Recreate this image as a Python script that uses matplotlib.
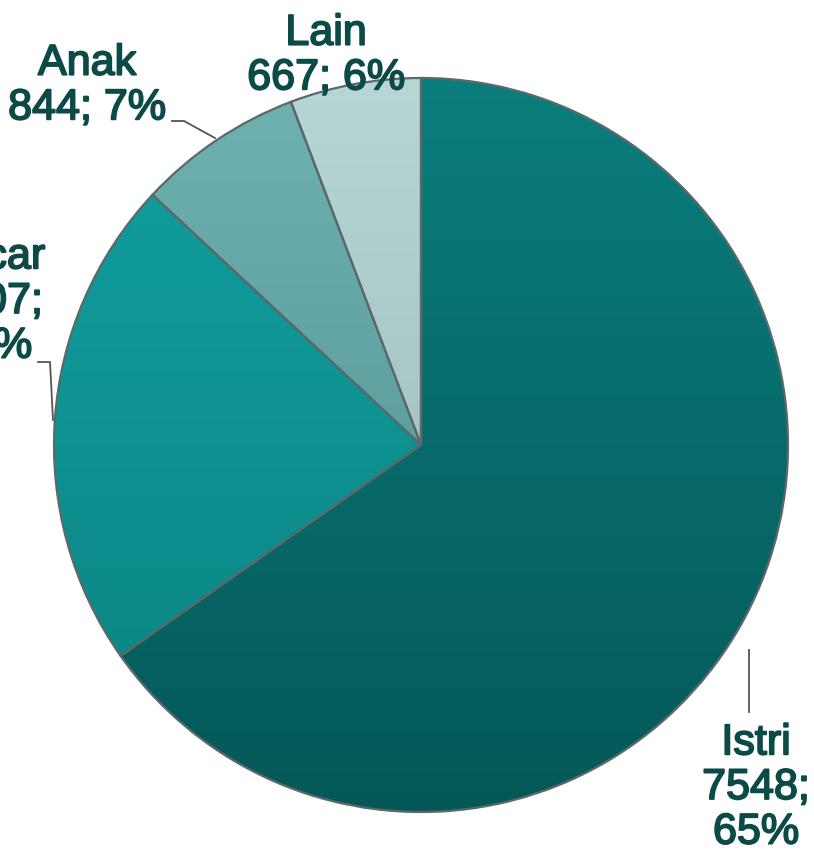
import matplotlib.pyplot as plt
import matplotlib.patheffects as pe
import numpy as np
from matplotlib.colors import LinearSegmentedColormap

plt.rcParams['font.family'] = ['Liberation Sans', 'DejaVu Sans']

labels = ['Istri', 'Pacar', 'Anak', 'Lain']
values = [7548, 2507, 844, 667]
seps = ['\n', '\n', ' ', ' ']

# top / bottom shade of each slice
shades = [('#0b7d7d', '#055858'),
          ('#12a0a0', '#0a8282'),
          ('#70b2b2', '#4b8e8e'),
          ('#b8d6d6', '#94b4b4')]
text_color = '#0b4a46'

W, H = 814, 850
fig = plt.figure(figsize=(W / 100, H / 100), dpi=100)
ax = fig.add_axes([0, 0, 1, 1])


def py(y):
    """pixel row (from top) -> data y"""
    return H - y


cx, cy, r = 421, py(445), 367

total = sum(values)
pct = [round(v / total * 100) for v in values]

wedges, _ = ax.pie(values, center=(cx, cy), radius=r, startangle=90,
                   counterclock=False, colors=[s[0] for s in shades],
                   wedgeprops=dict(linewidth=0), frame=True)

grad = np.linspace(0, 1, 256).reshape(-1, 1)
for w, (top, bot) in zip(wedges, shades):
    cmap = LinearSegmentedColormap.from_list('s', [bot, top])
    im = ax.imshow(grad, extent=[cx - r, cx + r, cy - r, cy + r], origin='lower',
                   cmap=cmap, aspect='auto', zorder=2, interpolation='bicubic')
    im.set_clip_path(w)

outline, _ = ax.pie(values, center=(cx, cy), radius=r, startangle=90,
                    counterclock=False, frame=True,
                    wedgeprops=dict(facecolor='none', edgecolor='#5d6868',
                                    linewidth=1.6, zorder=3))

ax.set_xlim(0, W)
ax.set_ylim(0, H)
ax.set_aspect('equal')
ax.axis('off')

# label positions (pixel coords from top-left)
label_pos = [(756, 788), (-11, 302), (87, 86), (326, 56)]
thick = [pe.withStroke(linewidth=1.3, foreground=text_color)]
for lab, v, p, s, (x, y) in zip(labels, values, pct, seps, label_pos):
    ax.text(x, py(y), f'{lab}\n{v};{s}{p}%', ha='center', va='center',
            fontsize=31, color=text_color, linespacing=1.15, zorder=5,
            path_effects=thick)

# leader lines
leaders = [[(749, 650), (749, 712)],
           [(38, 362), (50, 362), (53, 420)],
           [(172, 121), (184, 121), (215, 138)]]
for pts in leaders:
    xs = [p[0] for p in pts]
    ys = [py(p[1]) for p in pts]
    ax.plot(xs, ys, color='#555555', linewidth=1.3, zorder=4)

fig.savefig('out.png', dpi=100)
